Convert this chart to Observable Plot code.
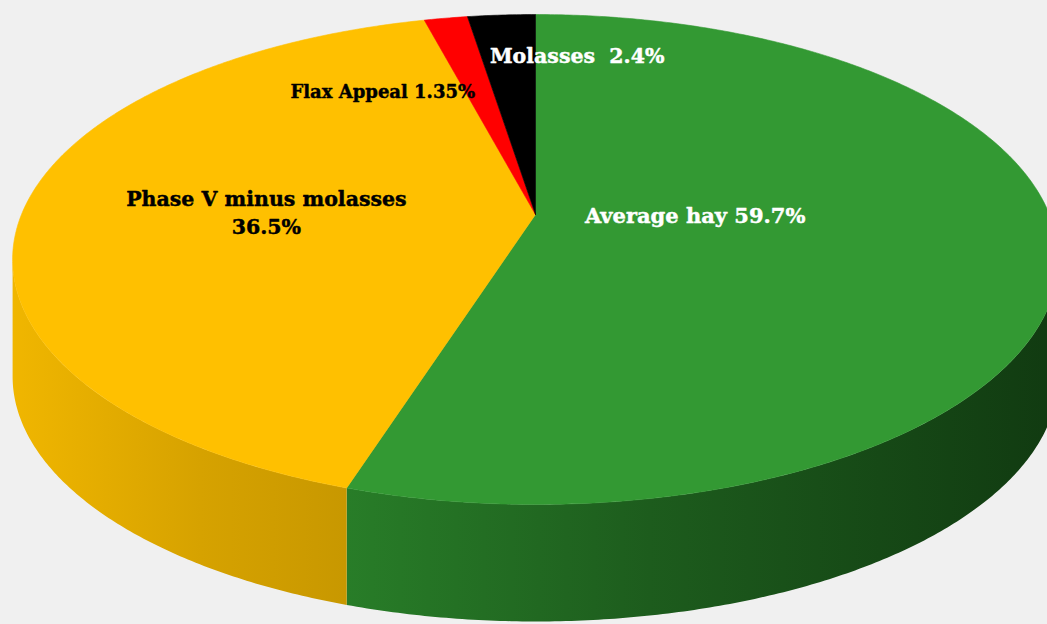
<!DOCTYPE html>
<html><head><meta charset="utf-8">
<script src="https://cdn.jsdelivr.net/npm/d3@7"></script>
<script src="https://cdn.jsdelivr.net/npm/@observablehq/plot@0.6"></script>
<style>html,body{margin:0;padding:0;background:#f0f0f0;overflow:hidden}</style>
</head><body><div id="chart"></div>
<script>
// ---- data ----
const categories = ["Average hay", "Phase V minus molasses", "Flax Appeal", "Molasses"];
const shares = [54.9, 41.0, 1.6, 2.5]; // slice sizes as drawn in the picture
const labelTexts = ["Average hay 59.7%", "Phase V minus molasses\n36.5%", "Flax Appeal 1.35%", "Molasses  2.4%"];
const topColors = ["#339933", "#FFC000", "#FF0000", "#000000"];
const labelColors = ["#ffffff", "#000000", "#000000", "#ffffff"];

// ---- layout ----
const W = 1047, H = 624;
const pie = {cx: 535, cy: 214, a: 514, b: 236.7, k: 0.1837, depth: 117};
const labelLayout = [
  {r: 0.30, dx: 6, dy: -12, anchor: "middle", size: 21},
  {r: 0.525, dx: 0, dy: 0, anchor: "middle", size: 20.5},
  {r: 0.59, dx: -4, dy: -1, anchor: "end", size: 18},
  {r: 0.75, dx: -19, dy: -5, anchor: "start", size: 20.5}
];

function proj(theta, r = 1) {
  const u = r * Math.sin(theta), v = -r * Math.cos(theta);
  const w = 1 - pie.k * v;
  return [pie.cx + pie.a * u / w, pie.cy + pie.b * v / w];
}
function arc(t0, t1, r = 1, dy = 0) {
  const n = Math.max(2, Math.ceil((t1 - t0) / (Math.PI / 360)));
  const pts = [];
  for (let i = 0; i <= n; i++) {
    const p = proj(t0 + (t1 - t0) * i / n, r);
    pts.push([p[0], p[1] + dy]);
  }
  return pts;
}

const total = d3.sum(shares);
const TAU = 2 * Math.PI;
let acc = 0;
const slices = shares.map((s, i) => {
  const t0 = acc / total * TAU; acc += s;
  const t1 = acc / total * TAU;
  return {i, t0, t1, mid: (t0 + t1) / 2};
});
const thR = Math.atan2(Math.sqrt(1 - pie.k * pie.k), -pie.k);
const thL = TAU - thR;

const marks = [];
// sides (front, visible arc only)
slices.forEach(s => {
  const s0 = Math.max(s.t0, thR), s1 = Math.min(s.t1, thL);
  if (s0 >= s1) return;
  const pts = arc(s0, s1).concat(arc(s0, s1, 1, pie.depth).reverse());
  marks.push(Plot.line(pts, {x: d => d[0], y: d => d[1], fill: `url(#side${s.i})`, stroke: "none", curve: "linear"}));
});
// top faces
slices.forEach(s => {
  const pts = [proj(0, 0)].concat(arc(s.t0, s.t1));
  pts.push(proj(0, 0));
  marks.push(Plot.line(pts, {x: d => d[0], y: d => d[1], fill: topColors[s.i], stroke: topColors[s.i], strokeWidth: 0.6, curve: "linear"}));
});
// labels
slices.forEach(s => {
  const L = labelLayout[s.i];
  const p = proj(s.mid, L.r);
  marks.push(Plot.text([{x: p[0] + L.dx, y: p[1] + L.dy, t: labelTexts[s.i]}], {
    x: "x", y: "y", text: "t", fill: labelColors[s.i], stroke: labelColors[s.i], strokeWidth: 0.45,
    textAnchor: L.anchor, fontSize: L.size, fontWeight: "bold", fontFamily: "DejaVu Serif", lineHeight: 1.35
  }));
});

const svg = Plot.plot({
  width: W, height: H, margin: 0,
  x: {domain: [0, W], range: [0, W], axis: null},
  y: {domain: [0, H], range: [0, H], axis: null},
  style: {background: "#f0f0f0", overflow: "hidden"},
  marks
});
const defs = d3.select(svg).insert("defs", ":first-child");
const grads = {
  0: [[345, "#287d28"], [650, "#1d5c1d"], [1047, "#113b11"]],
  1: [[13, "#F0B600"], [200, "#D6A200"], [345, "#C89800"]],
  2: [[0, "#b00000"], [1047, "#b00000"]],
  3: [[0, "#000"], [1047, "#000"]]
};
Object.entries(grads).forEach(([i, stops]) => {
  const g = defs.append("linearGradient").attr("id", "side" + i)
    .attr("gradientUnits", "userSpaceOnUse").attr("x1", 0).attr("x2", W).attr("y1", 0).attr("y2", 0);
  stops.forEach(([x, c]) => g.append("stop").attr("offset", x / W).attr("stop-color", c));
});
document.getElementById("chart").appendChild(svg);
</script>
</body></html>
